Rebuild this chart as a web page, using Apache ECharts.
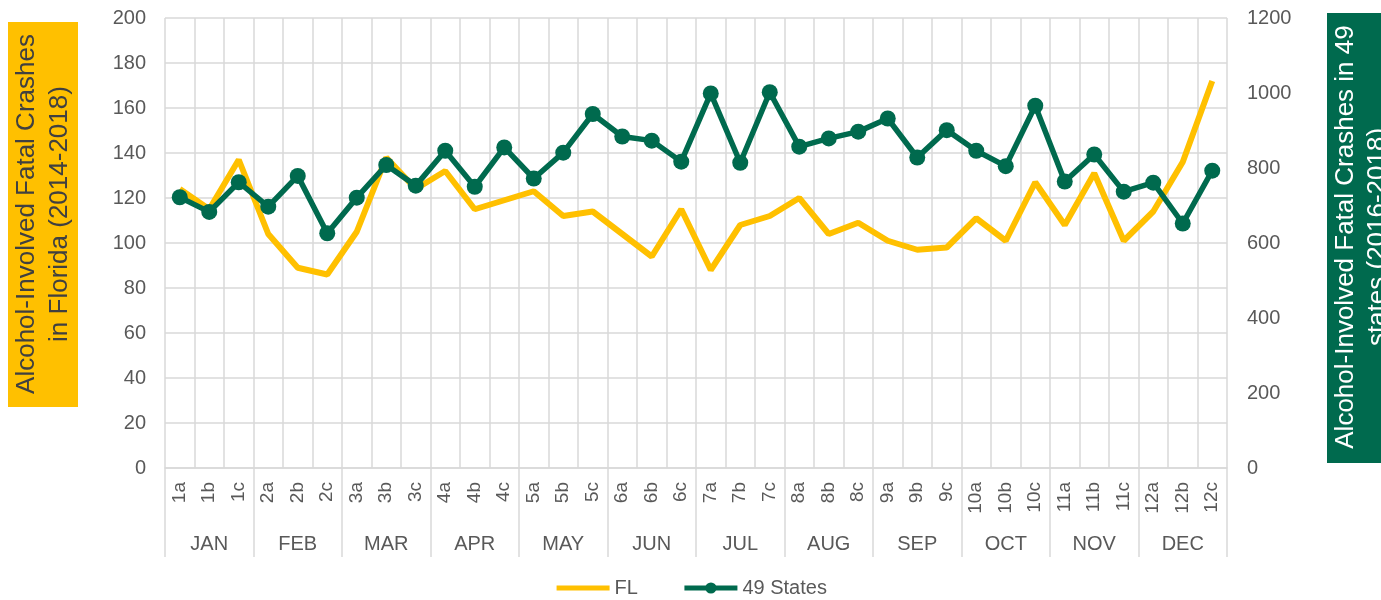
<!DOCTYPE html>
<html>
<head>
<meta charset="utf-8">
<script src="https://cdn.jsdelivr.net/npm/echarts@6/dist/echarts.min.js"></script>
<style>
  html, body { margin: 0; padding: 0; background: #fff; }
  #main { width: 1381px; height: 600px; }
</style>
</head>
<body>
<div id="main"></div>
<script>
// categories
const subLabels = ['1a','1b','1c','2a','2b','2c','3a','3b','3c','4a','4b','4c',
  '5a','5b','5c','6a','6b','6c','7a','7b','7c','8a','8b','8c',
  '9a','9b','9c','10a','10b','10c','11a','11b','11c','12a','12b','12c'];
const months = ['JAN','FEB','MAR','APR','MAY','JUN','JUL','AUG','SEP','OCT','NOV','DEC'];

// series values
const flValues = [124, 115, 137, 104, 89, 86, 105, 138, 124, 132, 115, 119,
  123, 112, 114, 104, 94, 115, 88, 108, 112, 120, 104, 109,
  101, 97, 98, 111, 101, 127, 108, 131, 101, 114, 136, 172];
const statesValues = [722, 683, 762, 697, 779, 626, 721, 808, 753, 846, 750, 855,
  772, 841, 944, 884, 873, 817, 999, 814, 1002, 857, 879, 897,
  932, 828, 901, 846, 805, 966, 764, 836, 737, 761, 652, 793];

const FONT = 'Liberation Sans, Arial, sans-serif';
const GRID_COLOR = '#d9d9d9';
const TEXT_COLOR = '#595959';
const YELLOW = '#FFC000';
const GREEN = '#006A4E';

const chart = echarts.init(document.getElementById('main'));

const option = {
  backgroundColor: '#fff',
  animation: false,
  textStyle: { fontFamily: FONT },
  grid: { left: 165, right: 154, top: 18, bottom: 132 },
  legend: {
    top: 578,
    left: 'center',
    padding: 0,
    itemWidth: 53,
    itemHeight: 14,
    itemGap: 44,
    textStyle: { fontSize: 20, color: TEXT_COLOR, fontFamily: FONT },
    data: [
      { name: 'FL', itemStyle: { opacity: 0 }, lineStyle: { width: 5 } },
      { name: '49 States', lineStyle: { width: 5 } }
    ]
  },
  xAxis: [
    {
      type: 'category',
      data: subLabels,
      position: 'bottom',
      boundaryGap: true,
      axisLine: { show: true, lineStyle: { color: GRID_COLOR, width: 1.5 } },
      axisTick: { show: false },
      splitLine: { show: true, interval: 0, lineStyle: { color: GRID_COLOR, width: 1.5 } },
      axisLabel: { interval: 0, rotate: 90, margin: 14, fontSize: 19, color: TEXT_COLOR, fontFamily: FONT }
    },
    {
      type: 'category',
      data: months,
      position: 'bottom',
      boundaryGap: true,
      axisLine: { show: false },
      axisTick: { show: true, interval: 0, length: 89, lineStyle: { color: GRID_COLOR, width: 1.5 } },
      splitLine: { show: false },
      axisLabel: { interval: 0, margin: 66, fontSize: 20, color: TEXT_COLOR, fontFamily: FONT }
    }
  ],
  yAxis: [
    {
      type: 'value',
      min: 0, max: 200, interval: 20,
      axisLine: { show: false },
      axisTick: { show: false },
      splitLine: { show: true, lineStyle: { color: GRID_COLOR, width: 1.5 } },
      axisLabel: { margin: 19, fontSize: 20, color: TEXT_COLOR, fontFamily: FONT }
    },
    {
      type: 'value',
      min: 0, max: 1200, interval: 200,
      position: 'right',
      axisLine: { show: false },
      axisTick: { show: false },
      splitLine: { show: false },
      axisLabel: {
        margin: 20, fontSize: 20, color: TEXT_COLOR, fontFamily: FONT,
        formatter: function (v) { return String(v); }
      }
    }
  ],
  series: [
    {
      name: 'FL',
      type: 'line',
      xAxisIndex: 0,
      yAxisIndex: 0,
      data: flValues,
      symbol: 'none',
      lineStyle: { color: YELLOW, width: 6 },
      itemStyle: { color: YELLOW },
      z: 2
    },
    {
      name: '49 States',
      type: 'line',
      xAxisIndex: 0,
      yAxisIndex: 1,
      data: statesValues,
      symbol: 'circle',
      symbolSize: 16,
      lineStyle: { color: GREEN, width: 5.5 },
      itemStyle: { color: GREEN },
      z: 3
    }
  ],
  graphic: [
    // left axis title box
    {
      type: 'rect',
      left: 8, top: 22,
      shape: { width: 70, height: 385 },
      style: { fill: YELLOW },
      z: 10
    },
    {
      type: 'text',
      x: 43, y: 214,
      rotation: Math.PI / 2,
      style: {
        text: 'Alcohol-Involved Fatal Crashes\nin Florida (2014-2018)',
        fill: '#404040',
        font: '26px ' + FONT,
        lineHeight: 33,
        align: 'center',
        verticalAlign: 'middle'
      },
      z: 11
    },
    // right axis title box
    {
      type: 'rect',
      left: 1327, top: 13,
      shape: { width: 60, height: 450 },
      style: { fill: GREEN },
      z: 10
    },
    {
      type: 'text',
      x: 1362, y: 237,
      rotation: Math.PI / 2,
      style: {
        text: 'Alcohol-Involved Fatal Crashes in 49\nstates (2016-2018)',
        fill: '#ffffff',
        font: '26px ' + FONT,
        lineHeight: 32,
        align: 'center',
        verticalAlign: 'middle'
      },
      z: 11
    }
  ]
};

chart.setOption(option);
window.onresize = function () {
  chart.resize();
};
</script>
</body>
</html>
